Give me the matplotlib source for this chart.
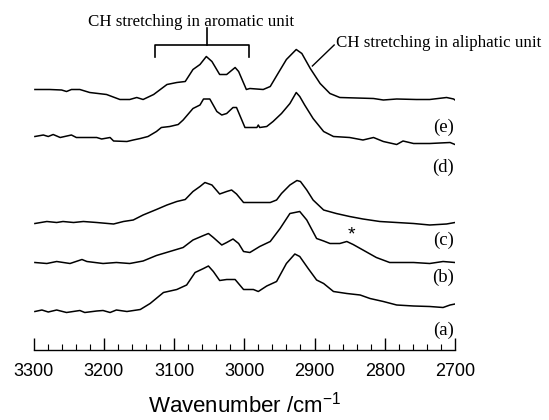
import matplotlib
matplotlib.use("Agg")
import matplotlib.pyplot as plt
from matplotlib.ticker import MultipleLocator

# stacked IR spectra, CH stretching region
wn_a = [3298, 3288, 3279, 3267, 3253, 3234, 3227, 3210, 3201, 3191, 3182, 3167, 3148, 3134, 3115,
        3096, 3082, 3070, 3058, 3051, 3044, 3035, 3025, 3013, 3001, 2987, 2980, 2968, 2954, 2940,
        2928, 2921, 2909, 2897, 2887, 2873, 2854, 2835, 2821, 2802, 2783, 2759, 2736, 2717, 2707, 2700]
abs_a = [0.38, 0.395, 0.375, 0.395, 0.37, 0.39, 0.37, 0.385, 0.39, 0.37, 0.395, 0.38, 0.40, 0.46, 0.57,
         0.60, 0.645, 0.77, 0.81, 0.835, 0.78, 0.69, 0.70, 0.70, 0.60, 0.60, 0.58, 0.635, 0.68, 0.86,
         0.955, 0.93, 0.81, 0.695, 0.66, 0.58, 0.56, 0.545, 0.51, 0.48, 0.445, 0.435, 0.43, 0.42, 0.445, 0.455]

wn_b = [3298, 3281, 3267, 3248, 3231, 3224, 3201, 3182, 3163, 3144, 3125, 3106, 3087, 3073, 3058,
        3051, 3044, 3032, 3025, 3016, 3008, 3001, 2992, 2978, 2963, 2949, 2935, 2921, 2911, 2897,
        2887, 2878, 2864, 2854, 2845, 2831, 2812, 2793, 2759, 2736, 2717, 2700]
abs_b = [0.87, 0.86, 0.88, 0.86, 0.90, 0.88, 0.86, 0.87, 0.86, 0.885, 0.94, 0.98, 1.02, 1.095, 1.14,
         1.16, 1.12, 1.045, 1.07, 1.105, 1.06, 0.98, 0.97, 1.03, 1.08, 1.21, 1.36, 1.38, 1.295, 1.11,
         1.085, 1.06, 1.06, 1.08, 1.05, 0.995, 0.92, 0.87, 0.87, 0.86, 0.88, 0.87]

wn_c = [3298, 3281, 3267, 3258, 3243, 3229, 3210, 3186, 3172, 3158, 3144, 3125, 3110, 3096, 3084,
        3073, 3063, 3056, 3046, 3035, 3025, 3018, 3011, 3001, 2982, 2963, 2954, 2947, 2935, 2925,
        2920, 2911, 2902, 2887, 2869, 2850, 2831, 2807, 2783, 2759, 2736, 2712, 2700]
abs_c = [1.26, 1.28, 1.27, 1.28, 1.27, 1.28, 1.27, 1.255, 1.28, 1.295, 1.345, 1.40, 1.445, 1.48, 1.50,
         1.58, 1.63, 1.67, 1.645, 1.555, 1.58, 1.595, 1.555, 1.47, 1.47, 1.47, 1.495, 1.56, 1.645, 1.69,
         1.68, 1.595, 1.495, 1.395, 1.36, 1.33, 1.305, 1.28, 1.27, 1.26, 1.245, 1.255, 1.27]

wn_d = [3298, 3286, 3279, 3272, 3262, 3246, 3239, 3210, 3203, 3191, 3186, 3167, 3158, 3148, 3137,
        3125, 3118, 3106, 3094, 3087, 3073, 3063, 3058, 3049, 3039, 3032, 3025, 3016, 3011, 2999,
        2982, 2980, 2978, 2968, 2959, 2947, 2935, 2926, 2921, 2914, 2902, 2887, 2873, 2850, 2831,
        2816, 2802, 2783, 2774, 2759, 2736, 2707, 2700]
abs_d = [2.13, 2.145, 2.13, 2.15, 2.12, 2.145, 2.12, 2.12, 2.105, 2.12, 2.085, 2.08, 2.095, 2.11, 2.13,
         2.18, 2.22, 2.23, 2.25, 2.295, 2.41, 2.445, 2.505, 2.505, 2.38, 2.345, 2.36, 2.42, 2.42, 2.22,
         2.22, 2.245, 2.22, 2.23, 2.28, 2.36, 2.46, 2.57, 2.53, 2.445, 2.31, 2.18, 2.13, 2.12, 2.095,
         2.12, 2.08, 2.05, 2.085, 2.06, 2.06, 2.07, 2.05]

wn_e = [3298, 3277, 3260, 3253, 3246, 3234, 3220, 3196, 3177, 3163, 3153, 3144, 3129, 3110, 3096,
        3084, 3073, 3063, 3054, 3046, 3035, 3025, 3013, 3008, 2997, 2992, 2973, 2963, 2952, 2940,
        2926, 2918, 2906, 2892, 2878, 2864, 2840, 2816, 2802, 2783, 2755, 2736, 2712, 2702, 2700]
abs_e = [2.60, 2.60, 2.595, 2.58, 2.60, 2.60, 2.57, 2.55, 2.50, 2.50, 2.52, 2.50, 2.55, 2.65, 2.67,
         2.68, 2.80, 2.85, 2.93, 2.88, 2.75, 2.75, 2.82, 2.78, 2.60, 2.61, 2.60, 2.63, 2.76, 2.90,
         3.00, 2.96, 2.81, 2.66, 2.56, 2.52, 2.515, 2.51, 2.495, 2.505, 2.50, 2.50, 2.52, 2.505, 2.495]

labels = ["(a)", "(b)", "(c)", "(d)", "(e)"]
label_y = [0.195, 0.725, 1.095, 1.825, 2.225]

serif = "Liberation Serif"
sans = "Liberation Sans"

fig = plt.figure(figsize=(5.49, 4.2), dpi=100)
ax = fig.add_axes([33.5 / 549, 70.5 / 420, 421.5 / 549, 329.5 / 420])

for wn, a in [(wn_a, abs_a), (wn_b, abs_b), (wn_c, abs_c), (wn_d, abs_d), (wn_e, abs_e)]:
    ax.plot(wn, a, color="black", lw=1.1)

for lab, y in zip(labels, label_y):
    ax.text(2702, y, lab, family=serif, fontsize=13.5, ha="right", va="center")

ax.text(2847, 1.15, "*", family=sans, fontsize=14, ha="center", va="center")

# bracket over aromatic CH band
ax.plot([3127, 3127, 2993, 2993], [2.925, 3.045, 3.045, 2.925], color="black", lw=1.2, clip_on=False)
ax.plot([3053, 3053], [3.045, 3.215], color="black", lw=1.2, clip_on=False)
ax.text(3076, 3.28, "CH stretching in aromatic unit", family=serif, fontsize=12.2,
        ha="center", va="center", clip_on=False)

# leader to aliphatic CH band
ax.plot([2903, 2872], [2.835, 3.045], color="black", lw=1.0, clip_on=False)
ax.text(2869, 3.065, "CH stretching in aliphatic unit", family=serif, fontsize=12.2,
        ha="left", va="center", clip_on=False)

ax.set_xlim(3300, 2700)
ax.set_ylim(0, 3.295)
for s in ["left", "right", "top"]:
    ax.spines[s].set_visible(False)
ax.spines["bottom"].set_linewidth(1.0)
ax.set_yticks([])
ax.xaxis.set_major_locator(MultipleLocator(100))
ax.xaxis.set_minor_locator(MultipleLocator(20))
ax.tick_params(axis="x", which="major", direction="in", length=9, width=1.0, pad=10, labelsize=13)
ax.tick_params(axis="x", which="minor", direction="in", length=4.5, width=0.8)
for t in ax.get_xticklabels():
    t.set_family(sans)
ax.set_xlabel("Wavenumber /cm$^{\\mathregular{-1}}$", family=sans, fontsize=16, labelpad=8)

fig.savefig("out.png", dpi=100)
